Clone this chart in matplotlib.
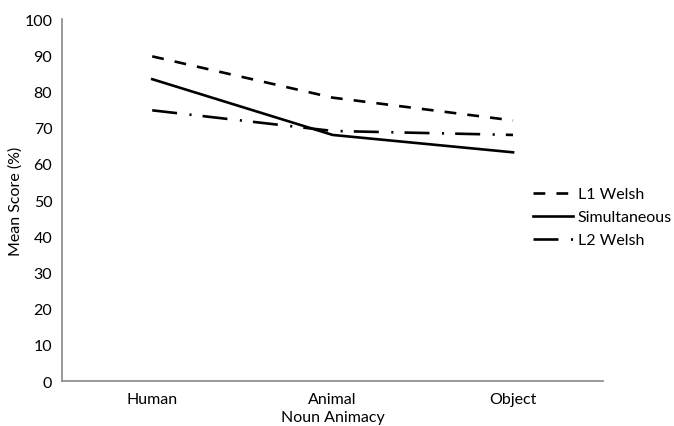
import matplotlib.pyplot as plt

plt.rcParams['font.family'] = ['Lato', 'DejaVu Sans']
plt.rcParams['lines.scale_dashes'] = False

categories = ["Human", "Animal", "Object"]
l1_welsh = [89.7, 78.3, 72.0]
simultaneous = [83.4, 68.0, 63.2]
l2_welsh = [74.8, 69.1, 68.0]

fig = plt.figure(figsize=(6.74, 4.27), dpi=100)
ax = fig.add_axes([0.092, 0.105, 0.803, 0.848])

x = range(len(categories))
ax.plot(x, l1_welsh, color="black", lw=1.9, dashes=(8.5, 8), label="L1 Welsh")
ax.plot(x, simultaneous, color="black", lw=1.9, label="Simultaneous")
ax.plot(x, l2_welsh, color="black", lw=1.9, dashes=(18, 9, 1.5, 8), label="L2 Welsh")

# axes look
ax.set_xlim(-0.5, 2.5)
ax.set_ylim(0, 100)
ax.set_yticks(range(0, 101, 10))
ax.set_xticks(list(x))
ax.set_xticklabels(categories)
ax.tick_params(axis="y", length=0, labelsize=11.5, pad=7)
ax.tick_params(axis="x", length=0, labelsize=11.5, pad=8)
for s in ["top", "right"]:
    ax.spines[s].set_visible(False)
for s in ["left", "bottom"]:
    ax.spines[s].set_color("#888888")
    ax.spines[s].set_linewidth(1.2)

ax.set_xlabel("Noun Animacy", fontsize=11.5, labelpad=3)
ax.set_ylabel("Mean Score (%)", fontsize=11.5)
ax.yaxis.set_label_coords(-0.072, 0.5)

ax.legend(loc="center left", bbox_to_anchor=(0.791, 0.489), bbox_transform=fig.transFigure,
          frameon=False, fontsize=11.5, handlelength=2.5, handletextpad=0.3,
          labelspacing=0.55, borderpad=0, borderaxespad=0)

fig.savefig("out.png", dpi=100)
